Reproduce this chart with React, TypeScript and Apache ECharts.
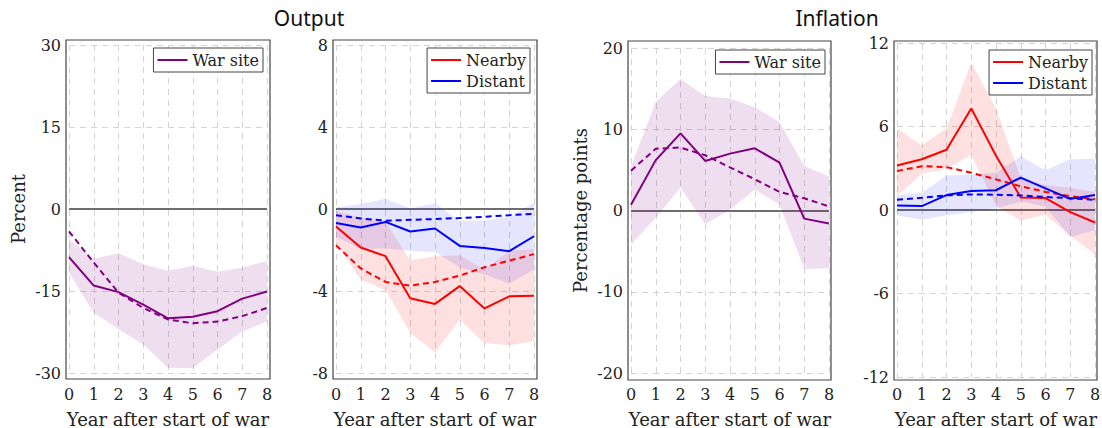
import React, { useEffect, useRef } from "react";
import * as echarts from "echarts";

const years = ["0", "1", "2", "3", "4", "5", "6", "7", "8"];

// Output, war site
const outWarSolid = [-8.8, -14.0, -15.2, -17.5, -20.0, -19.7, -18.7, -16.4, -15.1];
const outWarDashed = [-4.1, -9.8, -15.3, -18.1, -20.2, -20.9, -20.6, -19.6, -18.1];
const outWarUpper = [-5.5, -9.1, -8.1, -10.1, -11.3, -10.4, -11.5, -10.7, -9.5];
const outWarLower = [-11.6, -19.0, -22.0, -24.8, -29.1, -29.1, -25.7, -22.4, -20.6];

// Output, nearby / distant
const outNearSolid = [-0.85, -1.88, -2.3, -4.35, -4.63, -3.76, -4.85, -4.26, -4.23];
const outNearDashed = [-1.77, -2.9, -3.56, -3.74, -3.56, -3.25, -2.84, -2.52, -2.2];
const outNearUpper = [-0.1, -0.4, -0.65, -2.5, -2.3, -2.25, -2.95, -2.05, -1.95];
const outNearLower = [-1.65, -3.45, -3.95, -6.05, -7.0, -5.4, -6.55, -6.65, -6.45];
const outDistSolid = [-0.68, -0.9, -0.63, -1.1, -0.95, -1.8, -1.9, -2.06, -1.33];
const outDistDashed = [-0.3, -0.46, -0.57, -0.53, -0.49, -0.44, -0.38, -0.3, -0.24];
const outDistUpper = [0.08, 0.25, 0.5, 0.02, 0.28, -0.6, -0.55, -0.42, 0.3];
const outDistLower = [-1.35, -1.95, -1.92, -2.05, -2.1, -2.85, -3.2, -3.65, -2.95];

// Inflation, war site
const infWarSolid = [0.7, 6.2, 9.5, 6.1, 7.0, 7.65, 5.9, -1.0, -1.6];
const infWarDashed = [4.9, 7.6, 7.75, 6.8, 5.3, 3.85, 2.3, 1.5, 0.5];
const infWarUpper = [5.4, 13.4, 16.2, 14.1, 13.8, 12.7, 10.9, 5.5, 4.2];
const infWarLower = [-4.2, -0.9, 2.8, -1.7, 0.1, 2.6, 0.75, -7.2, -7.1];

// Inflation, nearby / distant
const infNearSolid = [3.2, 3.65, 4.33, 7.3, 3.9, 0.9, 0.86, -0.15, -0.9];
const infNearDashed = [2.8, 3.15, 3.08, 2.68, 2.2, 1.7, 1.3, 1.0, 0.77];
const infNearUpper = [5.85, 4.65, 5.85, 10.6, 7.3, 2.3, 1.8, 1.6, 1.3];
const infNearLower = [1.0, 2.6, 2.95, 3.96, 0.3, -0.75, -0.35, -1.85, -3.2];
const infDistSolid = [0.33, 0.28, 1.07, 1.36, 1.42, 2.33, 1.55, 0.8, 1.07];
const infDistDashed = [0.74, 0.88, 1.05, 1.12, 1.1, 1.05, 0.93, 0.85, 0.72];
const infDistUpper = [1.08, 1.23, 2.48, 2.54, 2.7, 3.84, 2.86, 3.64, 3.68];
const infDistLower = [-0.39, -0.69, -0.39, -0.13, 0.1, 0.62, 0.23, -1.94, -1.46];

const yLimits = [30, 8, 20, 12];
const yIntervals = [15, 4, 10, 6];

const PURPLE = "#800080";
const RED = "#ff0000";
const BLUE = "#0000ff";
const SERIF = "'DejaVu Serif', serif";

const grids = [
  { left: 69, top: 45, width: 198, height: 328 },
  { left: 336, top: 45, width: 198, height: 328 },
  { left: 631, top: 48, width: 198, height: 325 },
  { left: 897, top: 43, width: 198, height: 334 },
];
const frames = [
  { x: 66, y: 40, w: 204, h: 339 },
  { x: 333, y: 40, w: 204, h: 339 },
  { x: 628, y: 41, w: 203, h: 339 },
  { x: 894, y: 41, w: 203, h: 339 },
];

function band(gi: number, lower: number[], upper: number[], fill: string, id: string) {
  return [
    {
      type: "line",
      name: id + "_lo",
      xAxisIndex: gi,
      yAxisIndex: gi,
      stack: id,
      stackStrategy: "all",
      data: lower,
      symbol: "none",
      lineStyle: { opacity: 0 },
      silent: true,
    },
    {
      type: "line",
      name: id + "_hi",
      xAxisIndex: gi,
      yAxisIndex: gi,
      stack: id,
      stackStrategy: "all",
      data: upper.map((u, i) => u - lower[i]),
      symbol: "none",
      lineStyle: { opacity: 0 },
      areaStyle: { color: fill, opacity: 1 },
      silent: true,
    },
  ];
}

function line(gi: number, name: string, data: number[], color: string, dashed: boolean, zero = false) {
  const s: any = {
    type: "line",
    name,
    xAxisIndex: gi,
    yAxisIndex: gi,
    data,
    symbol: "none",
    z: 3,
    lineStyle: { color, width: 2, type: dashed ? [6, 4] : "solid" },
    itemStyle: { color },
    silent: true,
  };
  if (zero) {
    s.markLine = {
      silent: true,
      symbol: "none",
      label: { show: false },
      lineStyle: { color: "#6e6e6e", width: 2, type: "solid" },
      data: [{ yAxis: 0 }],
      z: 2,
    };
  }
  return s;
}

const yNames = ["Percent", "", "Percentage points", ""];

export default function App() {
  const ref = useRef<HTMLDivElement>(null);
  useEffect(() => {
    if (!ref.current) return;
    const chart = echarts.init(ref.current, undefined, { renderer: "svg" });
    const gridLine = { show: true, lineStyle: { color: "#d4d4d4", width: 1, type: [6, 5] } };
    const option: any = {
      animation: false,
      backgroundColor: "#fff",
      grid: grids.map((g) => ({ ...g, outerBoundsMode: "none", containLabel: false })),
      xAxis: grids.map((g, i) => {
        const shift = g.top + g.height - 373;
        return {
          type: "category",
          gridIndex: i,
          data: years,
          boundaryGap: false,
          axisLine: { show: false },
          axisTick: { show: false },
          axisLabel: { fontSize: 16, fontFamily: SERIF, color: "#222", margin: 13 - shift },
          splitLine: gridLine,
          name: "Year after start of war",
          nameLocation: "middle",
          nameGap: 37 - shift,
          nameTextStyle: { fontSize: 18, fontFamily: SERIF, color: "#222" },
        };
      }),
      yAxis: grids.map((_, i) => ({
        type: "value",
        gridIndex: i,
        min: -yLimits[i],
        max: yLimits[i],
        interval: yIntervals[i],
        axisLine: { show: false },
        axisTick: { show: false },
        axisLabel: { fontSize: 16, fontFamily: SERIF, color: "#222", margin: 8 },
        splitLine: gridLine,
        name: yNames[i],
        nameLocation: "middle",
        nameGap: 42,
        nameTextStyle: { fontSize: 18, fontFamily: SERIF, color: "#222" },
      })),
      legend: [
        { data: ["War site"], right: 839, top: 48 },
        { data: ["Nearby", "Distant"], right: 572, top: 48, orient: "vertical" },
        { data: ["War site"], right: 277, top: 50 },
        { data: ["Nearby", "Distant"], right: 10, top: 50, orient: "vertical" },
      ].map((l) => ({
        ...l,
        icon: "rect",
        itemWidth: 30,
        itemHeight: 2,
        itemGap: 1,
        padding: [2, 4, 2, 4],
        borderColor: "#444",
        borderWidth: 1,
        backgroundColor: "#fff",
        textStyle: { fontSize: 16, fontFamily: SERIF, color: "#222", lineHeight: 20 },
        selectedMode: false,
      })),
      series: [
        ...band(0, outWarLower, outWarUpper, "rgba(128,0,128,0.13)", "b0"),
        line(0, "War site", outWarSolid, PURPLE, false, true),
        line(0, "War site dashed", outWarDashed, PURPLE, true),

        ...band(1, outNearLower, outNearUpper, "rgba(255,0,0,0.12)", "b1"),
        ...band(1, outDistLower, outDistUpper, "rgba(0,0,255,0.10)", "b2"),
        line(1, "Nearby", outNearSolid, RED, false, true),
        line(1, "Nearby dashed", outNearDashed, RED, true),
        line(1, "Distant", outDistSolid, BLUE, false),
        line(1, "Distant dashed", outDistDashed, BLUE, true),

        ...band(2, infWarLower, infWarUpper, "rgba(128,0,128,0.13)", "b3"),
        line(2, "War site", infWarSolid, PURPLE, false, true),
        line(2, "War site dashed", infWarDashed, PURPLE, true),

        ...band(3, infNearLower, infNearUpper, "rgba(255,0,0,0.12)", "b4"),
        ...band(3, infDistLower, infDistUpper, "rgba(0,0,255,0.10)", "b5"),
        line(3, "Nearby", infNearSolid, RED, false, true),
        line(3, "Nearby dashed", infNearDashed, RED, true),
        line(3, "Distant", infDistSolid, BLUE, false),
        line(3, "Distant dashed", infDistDashed, BLUE, true),
      ],
      graphic: [
        ...frames.map((f) => ({
          type: "rect",
          z: 100,
          silent: true,
          shape: { x: f.x, y: f.y, width: f.w, height: f.h },
          style: { fill: "none", stroke: "#444", lineWidth: 1.2 },
        })),
        {
          type: "text",
          x: 309,
          y: 18,
          silent: true,
          style: {
            text: "Output",
            fontSize: 21,
            fontFamily: "'Noto Sans', sans-serif",
            fill: "#111",
            align: "center",
            verticalAlign: "middle",
          },
        },
        {
          type: "text",
          x: 837,
          y: 18,
          silent: true,
          style: {
            text: "Inflation",
            fontSize: 21,
            fontFamily: "'Noto Sans', sans-serif",
            fill: "#111",
            align: "center",
            verticalAlign: "middle",
          },
        },
      ],
    };
    chart.setOption(option);
    return () => chart.dispose();
  }, []);
  return (
    <div
      ref={ref}
      style={{ position: "fixed", left: 0, top: 0, width: 1102, height: 428, background: "#fff" }}
    />
  );
}
